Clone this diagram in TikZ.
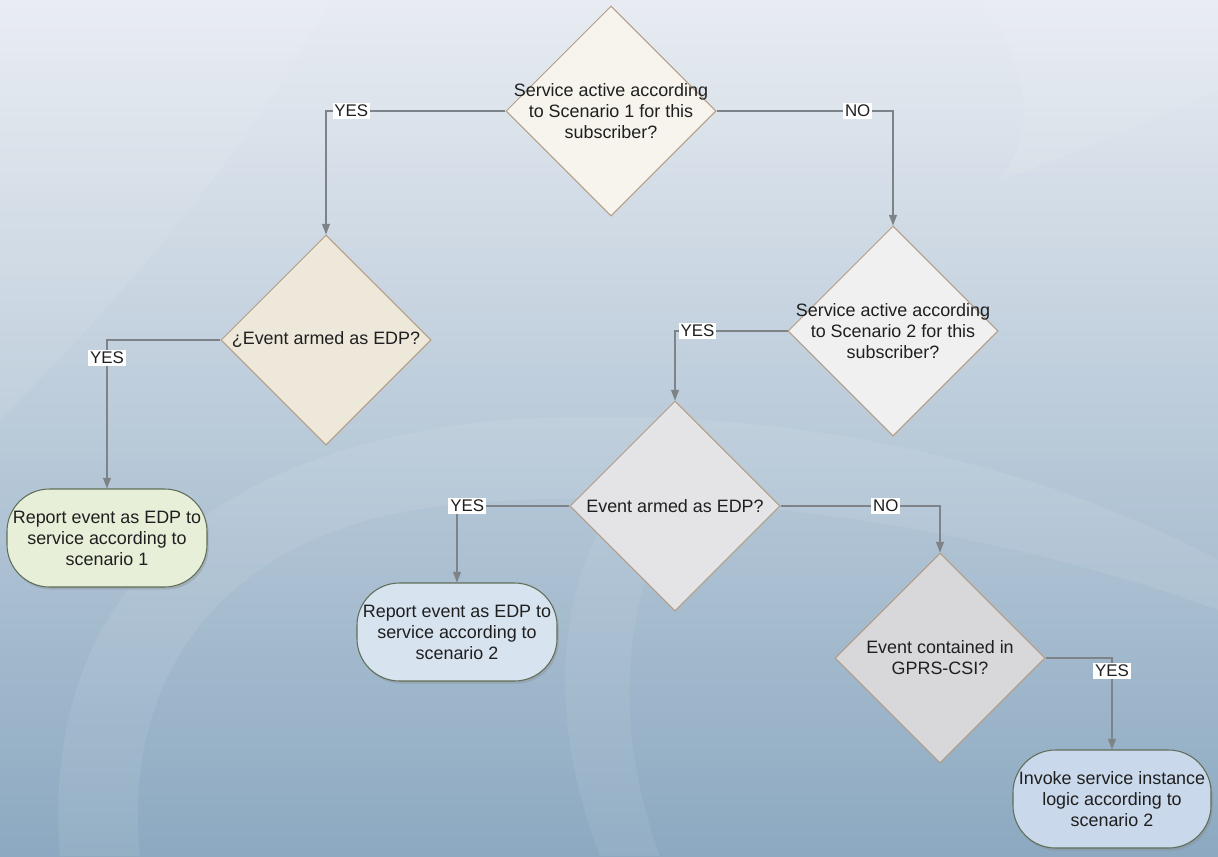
\documentclass[tikz,border=0pt]{standalone}
\usepackage{fontspec}
\setmainfont{Liberation Sans}
\usetikzlibrary{shapes.geometric, arrows.meta, shadows}

\definecolor{bgtop}{HTML}{E8ECF2}
\definecolor{bgmid}{HTML}{C2D0DD}
\definecolor{bgbot}{HTML}{8CA9C1}
\definecolor{decline}{HTML}{B39C84}
\definecolor{boxline}{HTML}{5F6E58}
\definecolor{linegray}{HTML}{7E8388}
\definecolor{dfillA}{HTML}{F7F4ED}
\definecolor{dfillB}{HTML}{EEE8DA}
\definecolor{dfillC}{HTML}{F0F0F1}
\definecolor{dfillD}{HTML}{E4E4E6}
\definecolor{dfillE}{HTML}{D8D8DA}
\definecolor{rfillA}{HTML}{E7EFD9}
\definecolor{rfillB}{HTML}{D7E3EF}
\definecolor{rfillC}{HTML}{C9D8EA}

\begin{document}
\begin{tikzpicture}[x=0.02cm, y=-0.02cm,
    txt/.style = {font=\fontsize{10.2}{12}\selectfont, align=center, text=black!88},
    dec/.style = {draw=decline, line width=0.6pt, shape=diamond, inner sep=0pt,
                  minimum width=4.2cm, minimum height=4.2cm},
    rep/.style = {draw=boxline, line width=0.6pt, rectangle, rounded corners=0.85cm,
                  minimum width=3.9cm, minimum height=1.96cm, txt,
                  drop shadow={shadow xshift=1pt, shadow yshift=-1.5pt, opacity=0.3}},
    ans/.style = {fill=white, inner sep=1pt, font=\fontsize{9.6}{10}\selectfont, text=black!88},
    flow/.style = {draw=linegray, line width=0.6pt, -{Triangle[length=6pt, width=4.5pt]}}]

    \useasboundingbox (0,0) rectangle (1218,856);
    \shade [top color=bgtop, middle color=bgmid, bottom color=bgbot] (0,0) rectangle (1218,856);
    \fill [white, opacity=0.08] (60,856) .. controls (40,600) and (200,450) .. (500,420)
        .. controls (800,400) and (1050,470) .. (1218,560) -- (1218,610)
        .. controls (1000,530) and (700,480) .. (450,505)
        .. controls (250,525) and (120,650) .. (140,856) -- cycle;
    \fill [white, opacity=0.08] (0,0) -- (330,0) .. controls (250,150) and (120,300) .. (0,420) -- cycle;
    \fill [white, opacity=0.07] (600,856) .. controls (540,700) and (560,560) .. (640,470)
        -- (700,470) .. controls (620,580) and (610,720) .. (660,856) -- cycle;
    \fill [white, opacity=0.08] (980,0) -- (1218,0) -- (1218,90) .. controls (1150,120) and (1060,160) .. (1000,180)
        .. controls (1050,110) and (1010,40) .. (980,0) -- cycle;

    \node [dec, fill=dfillA, label={[txt]center:{Service active according\\to Scenario 1 for this\\subscriber?}}] (s1) at (611,111) {};
    \node [dec, fill=dfillB, label={[txt]center:{¿Event armed as EDP?}}] (e1) at (326,340) {};
    \node [dec, fill=dfillC, label={[txt]center:{Service active according\\to Scenario 2 for this\\subscriber?}}] (s2) at (893,331) {};
    \node [dec, fill=dfillD, label={[txt]center:{Event armed as EDP?}}] (e2) at (675,506) {};
    \node [dec, fill=dfillE, label={[txt]center:{Event contained in\\GPRS-CSI?}}] (g) at (940,658) {};

    \node [rep, fill=rfillA] (r1) at (107,538) {Report event as EDP to\\service according to\\scenario 1};
    \node [rep, fill=rfillB] (r2) at (457,632) {Report event as EDP to\\service according to\\scenario 2};
    \node [rep, fill=rfillC] (inv) at (1112,799) {Invoke service instance\\logic according to\\scenario 2};

    \draw [flow] (s1.west) -| node [ans, pos=0.43] {YES} (e1.north);
    \draw [flow] (s1.east) -| node [ans, pos=0.40] {NO} (s2.north);
    \draw [flow] (e1.west) -| node [ans, pos=0.56] {YES} (r1.north);
    \draw [flow] (s2.west) -| node [ans, pos=0.40] {YES} (e2.north);
    \draw [flow] (e2.west) -| node [ans, pos=0.455] {YES} (r2.north);
    \draw [flow] (e2.east) -| node [ans, pos=0.33] {NO} (g.north);
    \draw [flow] (g.east) -| node [ans, pos=0.57] {YES} (inv.north);
\end{tikzpicture}
\end{document}
